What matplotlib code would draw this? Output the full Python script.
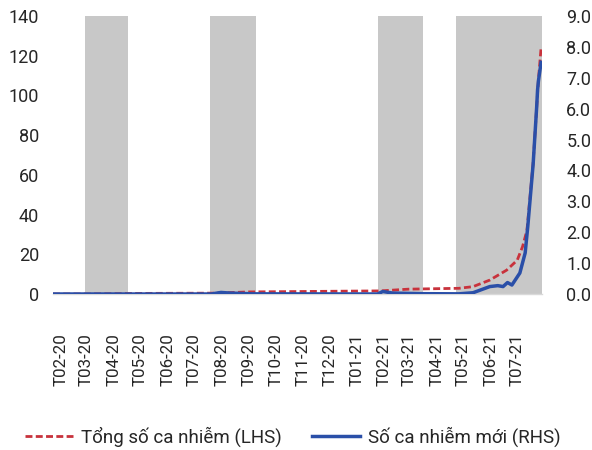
import numpy as np
import matplotlib
matplotlib.use("Agg")
import matplotlib.pyplot as plt
import pandas as pd

plt.rcParams['font.family'] = ['Roboto', 'DejaVu Sans']
plt.rcParams['text.color'] = '#262626'
plt.rcParams['xtick.color'] = '#262626'
plt.rcParams['ytick.color'] = '#262626'

# tong so ca nhiem (nghin ca, truc trai)
cum_dates = ['2020-01-23', '2020-03-01', '2020-04-20', '2020-07-24', '2020-08-31',
             '2020-12-31', '2021-01-27', '2021-02-28', '2021-04-26', '2021-05-12',
             '2021-05-31', '2021-06-19', '2021-07-01', '2021-07-07', '2021-07-12',
             '2021-07-19', '2021-07-23', '2021-07-25', '2021-07-28']
cum_vals = [0.002, 0.016, 0.27, 0.42, 1.04,
            1.46, 1.55, 2.43, 2.86, 3.7,
            7.0, 12.0, 17.0, 23.8, 32.0,
            66.0, 94.0, 108.0, 124.0]

# so ca nhiem moi (nghin ca, truc phai)
new_dates = ['2020-01-23', '2020-07-20', '2020-07-31', '2020-08-10', '2020-09-05',
             '2021-01-24', '2021-01-30', '2021-02-10', '2021-03-15', '2021-04-26',
             '2021-05-12', '2021-05-31', '2021-06-09', '2021-06-15', '2021-06-20',
             '2021-06-25', '2021-07-04', '2021-07-10', '2021-07-13', '2021-07-19',
             '2021-07-23', '2021-07-24', '2021-07-25', '2021-07-28']
new_vals = [0.0, 0.0, 0.05, 0.03, 0.005,
            0.0, 0.08, 0.03, 0.01, 0.005,
            0.04, 0.24, 0.27, 0.24, 0.37,
            0.29, 0.68, 1.33, 2.2, 4.2,
            6.05, 6.6, 6.9, 7.5]

# cac dot dich
waves = [('2020-02-28', '2020-04-17'), ('2020-07-19', '2020-09-09'),
         ('2021-01-24', '2021-03-16'), ('2021-04-23', '2021-07-29')]

month_ticks = pd.date_range('2020-02-01', '2021-07-01', freq='MS')

fig = plt.figure(figsize=(5.92, 4.5), dpi=100)
ax = fig.add_axes([0.0895, 0.3467, 0.826, 0.6178])
ax2 = ax.twinx()

for a, b in waves:
    ax.axvspan(pd.Timestamp(a), pd.Timestamp(b), color='#c8c8c8', lw=0, zorder=0)

l1, = ax.plot(pd.to_datetime(cum_dates), cum_vals, color='#c8323c', lw=2.0,
              dashes=(2.5, 1.2), label='Tổng số ca nhiễm (LHS)', zorder=3)
l2, = ax2.plot(pd.to_datetime(new_dates), new_vals, color='#2a4fa8', lw=2.5,
               label='Số ca nhiễm mới (RHS)', zorder=3)

ax.set_ylim(0, 140)
ax.set_yticks(np.arange(0, 141, 20))
ax2.set_ylim(0, 9)
ax2.set_yticks(np.arange(0, 9.1, 1))
ax2.yaxis.set_major_formatter(matplotlib.ticker.FormatStrFormatter('%.1f'))

ax.set_xlim(pd.Timestamp('2020-01-23'), pd.Timestamp('2021-07-29'))
ax.set_xticks(month_ticks)
ax.set_xticklabels(['T' + d.strftime('%m-%y') for d in month_ticks], rotation=90)

ax.tick_params(axis='y', length=0, labelsize=13, pad=10)
ax2.tick_params(axis='y', length=0, labelsize=13, pad=17.5)
ax.tick_params(axis='x', length=0, labelsize=12.2, pad=28)

for a in (ax, ax2):
    for s in a.spines.values():
        s.set_visible(False)
ax.spines['bottom'].set_visible(True)
ax.spines['bottom'].set_color('#d9d9d9')
ax.spines['bottom'].set_linewidth(1.0)

fig.legend(handles=[l1, l2], loc='center', bbox_to_anchor=(0.495, 0.029), ncol=2,
           frameon=False, fontsize=13.5, handlelength=2.55, handletextpad=0.45,
           columnspacing=1.6)

fig.savefig('out.png', dpi=100)
